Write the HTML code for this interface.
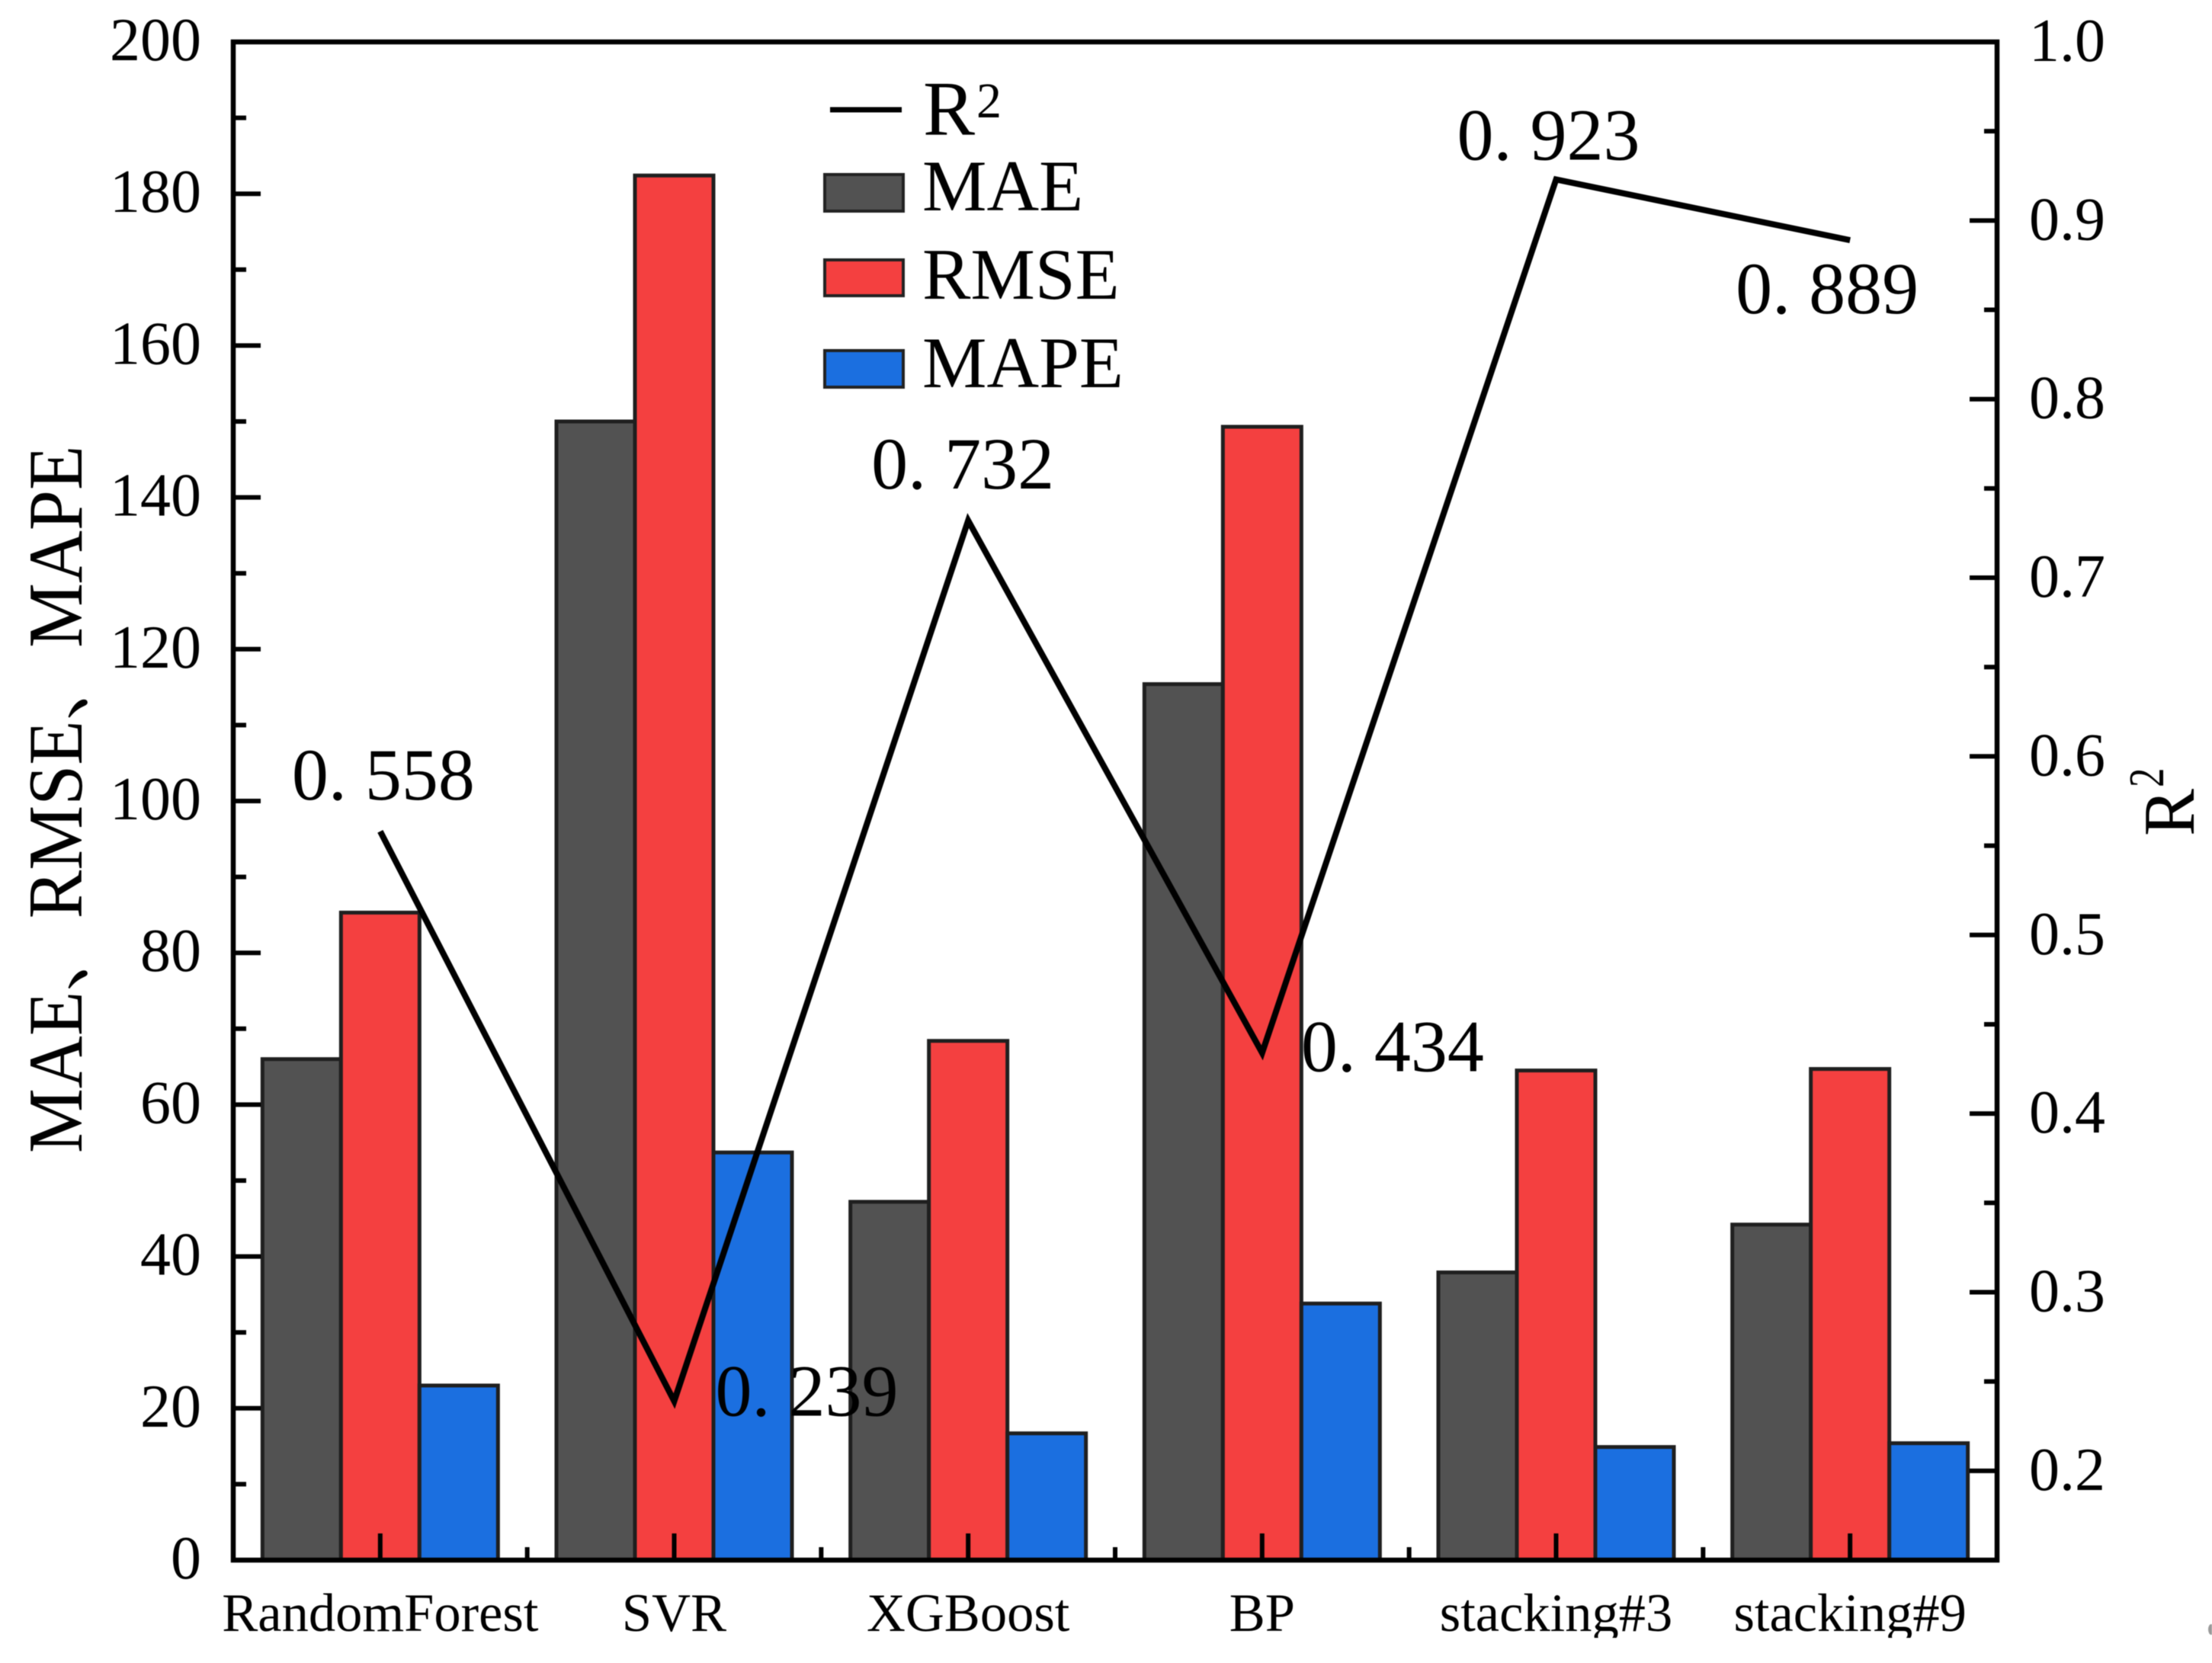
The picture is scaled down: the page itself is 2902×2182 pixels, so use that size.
<!DOCTYPE html>
<html lang="en">
<head>
<meta charset="utf-8">
<title>Model error metrics and R²</title>
<style>
html,body{margin:0;padding:0;background:#fff;}
body{width:2902px;height:2182px;overflow:hidden;}
svg{display:block;filter:blur(0.6px);}
text{font-family:"Liberation Serif","Noto Serif CJK SC",serif;fill:#000;}
</style>
</head>
<body>
<svg id="chart" xmlns="http://www.w3.org/2000/svg" width="2902" height="2182" viewBox="0 0 2902 2182">
  <defs>
    <clipPath id="xlabel-clip"><rect x="0" y="2060" width="2902" height="89"></rect></clipPath>
  </defs>
  <rect x="0" y="0" width="2902" height="2182" fill="#ffffff"></rect>
  <g id="bars"></g>
  <g id="ticks"></g>
  <rect x="306" y="55" width="2314" height="1992" fill="none" stroke="#000" stroke-width="6.5"></rect>
  <g id="line"></g>
  <g id="labels"></g>
  <text transform="translate(107,1513) rotate(-90) scale(1.005,1.07)" font-size="95">MAE、RMSE、MAPE</text>
  <g>
    <text transform="translate(2878,1097) rotate(-90) scale(1,1.03)" font-size="93">R</text>
    <text transform="translate(2838,1033) rotate(-90) scale(0.85,1.1)" font-size="60">2</text>
  </g>
  <g>
    <line x1="1089" y1="144" x2="1183" y2="144" stroke="#000" stroke-width="7"></line>
    <text x="1211" y="177" font-size="102">R</text>
    <text x="1281" y="154" font-size="66">2</text>
    <rect x="1082" y="229" width="103" height="48" fill="#525252" stroke="#222" stroke-width="4"></rect>
    <text x="1210" y="276" font-size="95">MAE</text>
    <rect x="1082" y="341" width="103" height="47" fill="#f44040" stroke="#222" stroke-width="4"></rect>
    <text x="1210" y="392" font-size="95">RMSE</text>
    <rect x="1082" y="460" width="103" height="48" fill="#1b6fe0" stroke="#222" stroke-width="4"></rect>
    <text x="1210" y="508" font-size="95">MAPE</text>
  </g>
  <ellipse cx="2901" cy="2138" rx="4" ry="7" fill="#999"></ellipse>
</svg>
<script>
const categories = ["RandomForest", "SVR", "XGBoost", "BP", "stacking#3", "stacking#9"];
const maeValues = [66, 150, 47.2, 115.4, 37.9, 44.2];
const rmseValues = [85.3, 182.4, 68.4, 149.3, 64.5, 64.7];
const mapeValues = [23, 53.7, 16.7, 33.8, 14.9, 15.4];
const r2Values = [0.558, 0.239, 0.732, 0.434, 0.923, 0.889];
const r2Printed = ["0. 558", "0. 239", "0. 732", "0. 434", "0. 923", "0. 889"];
const leftTicks = [0, 20, 40, 60, 80, 100, 120, 140, 160, 180, 200];
const rightTicks = ["0.2", "0.3", "0.4", "0.5", "0.6", "0.7", "0.8", "0.9", "1.0"];

const NS = "http://www.w3.org/2000/svg";
const plot = { left: 306, right: 2620, top: 55, bottom: 2047 };
const leftDomain = [0, 200];
const rightDomain = [0.15, 1.0];
const barWidth = 103;
const labelShift = {
  "RandomForest": [-116, -42], "SVR": [54, 19], "XGBoost": [-127, -42],
  "BP": [51, 24], "stacking#3": [-130, -26], "stacking#9": [-150, 96]
};

function xCenter(i) {
  return plot.left + (i + 0.5) * (plot.right - plot.left) / categories.length;
}
function yLeft(v) {
  return plot.bottom - (v - leftDomain[0]) / (leftDomain[1] - leftDomain[0]) * (plot.bottom - plot.top);
}
function yRight(v) {
  return plot.bottom - (v - rightDomain[0]) / (rightDomain[1] - rightDomain[0]) * (plot.bottom - plot.top);
}
function make(tag, parent) {
  const el = document.createElementNS(NS, tag);
  parent.appendChild(el);
  return el;
}
function addTick(x1, y1, x2, y2, name) {
  const t = make("line", document.getElementById("ticks"));
  t.setAttribute("x1", x1);
  t.setAttribute("y1", y1);
  t.setAttribute("x2", x2);
  t.setAttribute("y2", y2);
  t.setAttribute("stroke", "#000");
  t.setAttribute("stroke-width", "6");
  
  
}
function addLabel(str, x, y, size, anchor, name) {
  const t = make("text", document.getElementById("labels"));
  t.setAttribute("x", x);
  t.setAttribute("y", y);
  t.setAttribute("font-size", size);
  t.setAttribute("text-anchor", anchor);
  t.textContent = str;
  
  
  return t;
}

/* bars */
const seriesList = [
  { key: "mae", values: maeValues, fill: "#525252" },
  { key: "rmse", values: rmseValues, fill: "#f44040" },
  { key: "mape", values: mapeValues, fill: "#1b6fe0" }
];
seriesList.forEach(function (s, k) {
  s.values.forEach(function (v, i) {
    const b = make("rect", document.getElementById("bars"));
    b.setAttribute("x", xCenter(i) + (k - 1.5) * barWidth);
    b.setAttribute("y", yLeft(v));
    b.setAttribute("width", barWidth);
    b.setAttribute("height", plot.bottom - yLeft(v));
    b.setAttribute("fill", s.fill);
    b.setAttribute("stroke", "#1f1f1f");
    b.setAttribute("stroke-width", "5");
    
    
  });
});

/* left axis */
leftTicks.forEach(function (v, i) {
  const y = yLeft(v);
  if (i > 0 && i < leftTicks.length - 1) {
    addTick(plot.left, y, plot.left + 36, y, "left-major-tick");
  }
  addLabel(String(v), 264, y + 24, 80, "end", "left-tick-label");
  if (i < leftTicks.length - 1) {
    const my = yLeft((v + leftTicks[i + 1]) / 2);
    addTick(plot.left, my, plot.left + 17, my, "left-minor-tick");
  }
});

/* right axis */
rightTicks.forEach(function (str, i) {
  const v = parseFloat(str);
  const y = yRight(v);
  if (i < rightTicks.length - 1) {
    addTick(plot.right, y, plot.right - 36, y, "right-major-tick");
  }
  addLabel(str, 2662, y + 25, 80, "start", "right-tick-label");
  if (i < rightTicks.length - 1) {
    const my = yRight((v + parseFloat(rightTicks[i + 1])) / 2);
    addTick(plot.right, my, plot.right - 17, my, "right-minor-tick");
  }
});

/* x axis */
categories.forEach(function (c, i) {
  const x = xCenter(i);
  addTick(x, plot.bottom, x, plot.bottom - 35, "x-major-tick");
  if (i < categories.length - 1) {
    const mx = (x + xCenter(i + 1)) / 2;
    addTick(mx, plot.bottom, mx, plot.bottom - 17, "x-minor-tick");
  }
  const t = addLabel(c, x, 2140, 70.5, "middle", "x-tick-label");
  t.setAttribute("clip-path", "url(#xlabel-clip)");
});

/* r2 line */
const r2Line = make("polyline", document.getElementById("line"));
r2Line.setAttribute("points", r2Values.map(function (v, i) {
  return xCenter(i) + "," + yRight(v);
}).join(" "));
r2Line.setAttribute("fill", "none");
r2Line.setAttribute("stroke", "#000");
r2Line.setAttribute("stroke-width", "8");
r2Line.setAttribute("stroke-linejoin", "miter");



r2Printed.forEach(function (str, i) {
  const shift = labelShift[categories[i]];
  const t = addLabel(str, xCenter(i) + shift[0], yRight(r2Values[i]) + shift[1], 96, "start", "r2-value-label");
  t.setAttribute("xml:space", "preserve");
  t.style.whiteSpace = "pre";
});
</script>
</body>
</html>
